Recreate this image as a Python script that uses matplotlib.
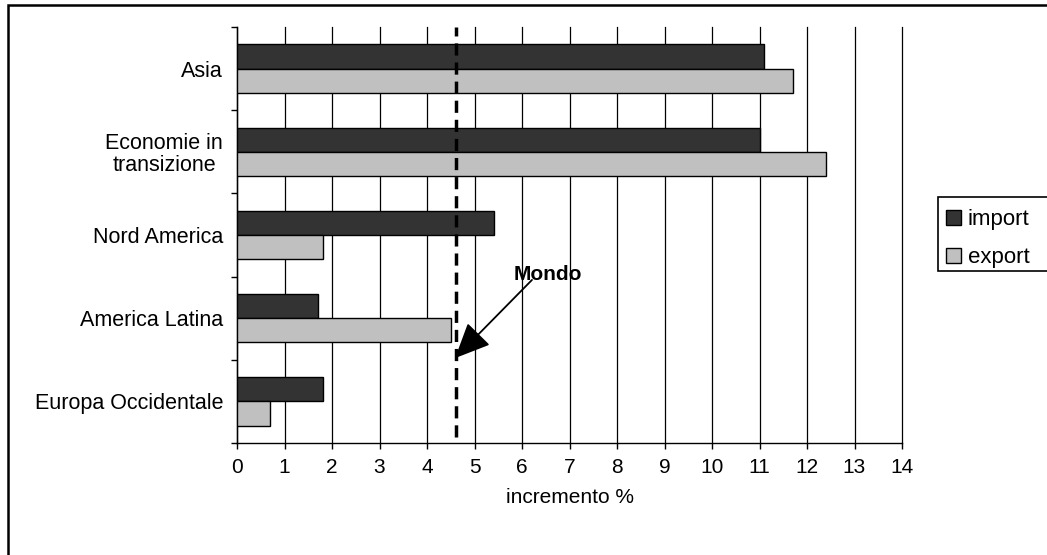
import matplotlib
matplotlib.use("Agg")
import matplotlib.pyplot as plt
from matplotlib.patches import Rectangle, Patch
import numpy as np

plt.rcParams['font.family'] = ['Liberation Sans', 'DejaVu Sans']

categories = ["Asia", "Economie in\ntransizione", "Nord America", "America Latina", "Europa Occidentale"]
import_vals = [11.1, 11.0, 5.4, 1.7, 1.8]
export_vals = [11.7, 12.4, 1.8, 4.5, 0.7]
mondo = 4.6
xticks = list(range(0, 15))

W, H = 1047, 555
fig = plt.figure(figsize=(W / 100, H / 100), dpi=100)
ax = fig.add_axes([237 / W, 1 - 443 / H, (902 - 237) / W, (443 - 27) / H])

n = len(categories)
ypos = np.arange(n)[::-1]  # Asia at top
h = 0.29
ax.barh(ypos + 0.145, import_vals, height=h, color="#333333", edgecolor="black", linewidth=1.0, zorder=3)
ax.barh(ypos - 0.145, export_vals, height=h, color="#c0c0c0", edgecolor="black", linewidth=1.0, zorder=3)

ax.set_xlim(0, 14)
ax.set_ylim(-0.5, n - 0.5)
ax.set_xticks(xticks)
ax.set_xticklabels([str(t) for t in xticks], fontsize=15)
ax.set_yticks(ypos)
ax.set_yticklabels(categories, fontsize=15.5, multialignment='center', linespacing=1.05)
ax.set_yticks(np.arange(-0.5, n, 1.0), minor=True)
ax.tick_params(axis='y', which='major', length=0, pad=10)
ax.tick_params(axis='y', which='minor', length=4.5, width=1.0, direction='out')
ax.tick_params(axis='x', which='major', length=4.5, width=1.0, direction='out', pad=6)

ax.grid(axis='x', color='black', linewidth=0.9, zorder=0)
for gl in ax.get_xgridlines():
    gl.set_clip_on(False)
for s in ['top', 'right']:
    ax.spines[s].set_visible(False)
ax.spines['left'].set_linewidth(1.0)
ax.spines['bottom'].set_linewidth(1.0)

ax.axvline(mondo, ymin=0.015, ymax=1.0, color='black', linestyle=(0, (3.5, 2)), linewidth=2.5, zorder=4)
ax.text(6.55, 1.52, "Mondo", fontsize=15, fontweight='bold', ha='center', va='center', zorder=5)
ax.annotate("", xy=(4.59, 0.52), xytext=(6.21, 1.46), zorder=5,
            arrowprops=dict(arrowstyle='-|>,head_length=1.0,head_width=0.45', color='black', lw=1.3,
                            mutation_scale=22, shrinkA=0, shrinkB=0))

ax.set_xlabel("incremento %", fontsize=15, labelpad=8)

fig.patches.append(Rectangle((7.5 / W, -0.1), 1.2, 1.1 - 5.5 / H, transform=fig.transFigure,
                             fill=False, edgecolor='black', linewidth=1.8))

# legend frame (extends beyond right edge as in reference)
fig.patches.append(Rectangle((938 / W, 1 - 271 / H), 0.2, (271 - 197) / H, transform=fig.transFigure,
                             fill=True, facecolor='white', edgecolor='black', linewidth=1.2, zorder=5))
handles = [Patch(facecolor="#333333", edgecolor="black", label="import"),
           Patch(facecolor="#c0c0c0", edgecolor="black", label="export")]
leg = fig.legend(handles=handles, loc='upper left', bbox_to_anchor=(942 / W, 1 - 205 / H),
                 fontsize=16, frameon=False,
                 handlelength=0.65, handleheight=0.65, handletextpad=0.3, borderpad=0.2,
                 labelspacing=0.75, borderaxespad=0)
leg.set_zorder(6)

fig.savefig("out.png", dpi=100)
